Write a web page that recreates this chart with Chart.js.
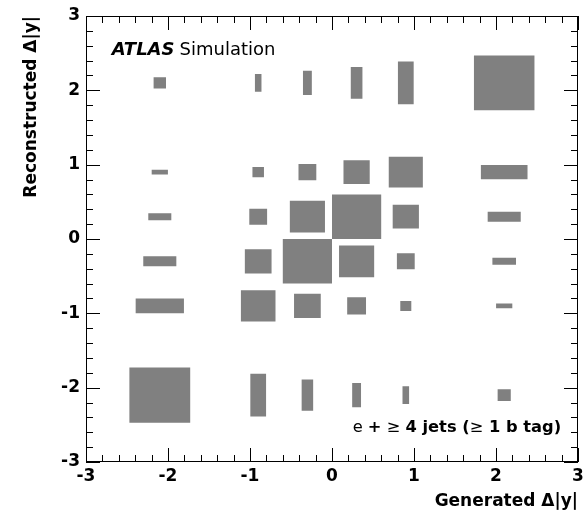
<!DOCTYPE html>
<html>
<head>
<meta charset="utf-8">
<script src="https://cdn.jsdelivr.net/npm/chart.js@4.4.1/dist/chart.umd.min.js"></script>
<style>
  html, body { margin: 0; padding: 0; background: #fff; }
  #wrap { width: 586px; height: 514px; }
</style>
</head>
<body>
<div id="wrap"><canvas id="migration" width="586" height="514"></canvas></div>
<script>
// bin edges for generated (x) and reconstructed (y) delta|y|
const genEdges = [-3, -1.2, -0.6, 0, 0.6, 1.2, 3];
const recoEdges = [-3, -1.2, -0.6, 0, 0.6, 1.2, 3];

// relative bin content (box size), rows = reco bins from bottom, cols = gen bins from left
const content = [
  [0.412, 0.32, 0.234, 0.18, 0.134, 0.089],
  [0.327, 0.703, 0.543, 0.383, 0.224, 0.11],
  [0.224, 0.543, 1.0, 0.714, 0.362, 0.16],
  [0.156, 0.362, 0.714, 1.0, 0.533, 0.224],
  [0.11, 0.234, 0.362, 0.533, 0.693, 0.316],
  [0.084, 0.133, 0.18, 0.237, 0.32, 0.41],
];

const axisTicks = [-3, -2, -1, 0, 1, 2, 3];
const boxColor = "rgb(128,128,128)";
const FONT = "'DejaVu Sans', 'Liberation Sans', sans-serif";

// --- one closed rectangle dataset per bin ---
const datasets = [];
content.forEach((row, j) => {
  row.forEach((c, i) => {
    if (!c) return;
    const xc = (genEdges[i] + genEdges[i + 1]) / 2;
    const yc = (recoEdges[j] + recoEdges[j + 1]) / 2;
    const hw = (c * (genEdges[i + 1] - genEdges[i])) / 2;
    const hh = (c * (recoEdges[j + 1] - recoEdges[j])) / 2;
    datasets.push({
      data: [
        { x: xc - hw, y: yc - hh },
        { x: xc + hw, y: yc - hh },
        { x: xc + hw, y: yc + hh },
        { x: xc - hw, y: yc + hh },
        { x: xc - hw, y: yc - hh },
      ],
      showLine: true,
      fill: "shape",
      backgroundColor: boxColor,
      borderColor: "rgba(0,0,0,0)",
      borderWidth: 0,
      pointRadius: 0,
      tension: 0,
    });
  });
});

// frame + ROOT style ticks on all four sides
const frameTicks = {
  id: "frameTicks",
  afterDatasetsDraw(chart) {
    const { ctx, chartArea: a, scales } = chart;
    const x = scales.x, y = scales.y;
    ctx.save();
    ctx.strokeStyle = "#000";
    ctx.lineWidth = 1;
    ctx.beginPath();
    for (let k = -15; k <= 15; k++) {
      const v = k / 5;
      const len = k % 5 === 0 ? 14 : 7;
      const px = Math.round(x.getPixelForValue(v)) + 0.5;
      ctx.moveTo(px, a.bottom); ctx.lineTo(px, a.bottom - len);
      ctx.moveTo(px, a.top); ctx.lineTo(px, a.top + len);
      const py = Math.round(y.getPixelForValue(v)) + 0.5;
      ctx.moveTo(a.left, py); ctx.lineTo(a.left + len, py);
      ctx.moveTo(a.right, py); ctx.lineTo(a.right - len, py);
    }
    ctx.stroke();
    ctx.strokeRect(Math.round(a.left) + 0.5, Math.round(a.top) + 0.5,
      Math.round(a.right - a.left) - 1, Math.round(a.bottom - a.top) - 1);

    // labels
    ctx.fillStyle = "#000";
    ctx.textBaseline = "alphabetic";
    ctx.textAlign = "left";
    let tx = x.getPixelForValue(-2.687);
    let ty = y.getPixelForValue(2.471);
    ctx.font = "bold italic 18px " + FONT;
    ctx.fillText("ATLAS", tx, ty);
    tx += ctx.measureText("ATLAS").width + 5;
    ctx.font = "18px " + FONT;
    ctx.fillText("Simulation", tx, ty);

    const parts = [
      ["e ", false], ["+", true], [" \u2265 ", false], ["4 jets (", true],
      ["\u2265", false], [" 1 b tag)", true],
    ];
    tx = x.getPixelForValue(0.252);
    ty = y.getPixelForValue(-2.597);
    parts.forEach(([t, b]) => {
      ctx.font = (b ? "bold " : "") + "16.3px " + FONT;
      ctx.fillText(t, tx, ty);
      tx += ctx.measureText(t).width;
    });
    ctx.restore();
  },
};

new Chart(document.getElementById("migration"), {
  type: "scatter",
  data: { datasets },
  options: {
    responsive: false,
    animation: false,
    events: [],
    layout: { padding: { left: 0, right: 8, top: 16, bottom: 0 } },
    plugins: { legend: { display: false }, tooltip: { enabled: false } },
    scales: {
      x: {
        type: "linear",
        min: -3,
        max: 3,
        afterBuildTicks: (s) => { s.ticks = axisTicks.map((v) => ({ value: v })); },
        afterFit: (s) => { s.height = 52; },
        grid: { display: false },
        border: { display: false },
        ticks: {
          color: "#000",
          padding: -4,
          maxRotation: 0,
          autoSkip: false,
          font: { family: FONT, size: 17, weight: "bold" },
          callback: (v) => String(v),
        },
        title: {
          display: true,
          text: "Generated \u0394|y|",
          align: "end",
          color: "#000",
          font: { family: FONT, size: 17, weight: "bold" },
          padding: { top: 0, bottom: 2 },
        },
      },
      y: {
        type: "linear",
        min: -3,
        max: 3,
        afterBuildTicks: (s) => { s.ticks = axisTicks.map((v) => ({ value: v })); },
        afterFit: (s) => { s.width = 86; },
        grid: { display: false },
        border: { display: false },
        ticks: {
          color: "#000",
          padding: -2,
          autoSkip: false,
          font: { family: FONT, size: 17, weight: "bold" },
          callback: (v) => String(v),
        },
        title: {
          display: true,
          text: "Reconstructed \u0394|y|",
          align: "end",
          color: "#000",
          font: { family: FONT, size: 17, weight: "bold" },
          padding: { top: 21, bottom: 0 },
        },
      },
    },
  },
  plugins: [frameTicks],
});
</script>
</body>
</html>
